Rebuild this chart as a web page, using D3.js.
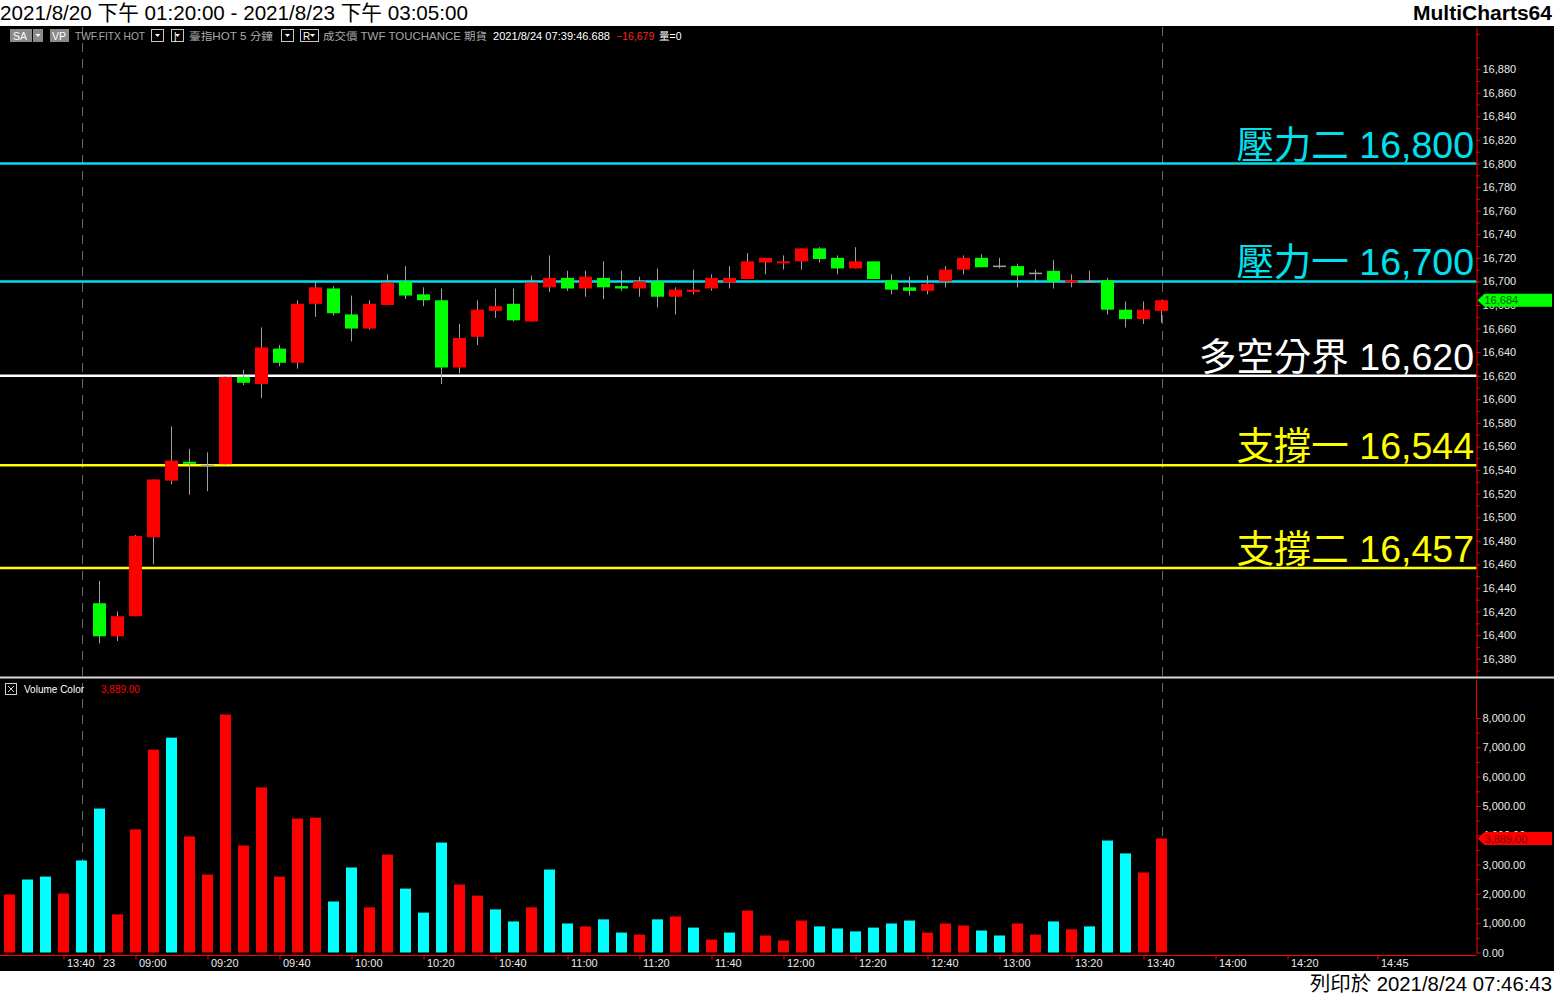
<!DOCTYPE html>
<html><head><meta charset="utf-8">
<script src="https://cdn.jsdelivr.net/npm/d3@7/dist/d3.min.js"></script>
<style>
body{margin:0;background:#fff;overflow:hidden}
svg{display:block}
text{font-family:"Liberation Sans",Arial,"Noto Sans CJK TC",sans-serif}
</style>
</head><body>
<svg id="c" width="1554" height="995"></svg>
<script>
// ---------------- DATA ----------------
// 5-minute bars of 2021/8/23 (bar 0 = 08:50 ... bar 59 = 13:45)
const opens  = [16427,16399,16416,16483,16531,16547,16544,16545,16619,16613,16643,16631,16681,16694,16672,16660,16680,16700,16689,16684,
                16627,16653,16675,16681,16666,16695,16703,16694,16703,16696,16694,16700,16687,16691,16694,16699,16702,16716,16716,16717,
                16728,16720,16711,16717,16701,16695,16692,16700,16710,16720,16713,16713,16707,16709,16699,16700,16701,16676,16668,16675];
const highs  = [16446,16420,16485,16532,16577,16558,16555,16620,16625,16661,16646,16684,16700,16696,16688,16684,16706,16713,16695,16694,
                16664,16684,16694,16694,16705,16722,16709,16709,16717,16709,16704,16711,16695,16710,16706,16713,16724,16720,16722,16728,
                16729,16722,16729,16717,16706,16704,16705,16713,16722,16723,16720,16715,16710,16718,16706,16709,16703,16683,16683,16684];
const lows   = [16393,16395,16416,16460,16528,16519,16522,16544,16612,16601,16628,16626,16670,16671,16649,16659,16680,16685,16679,16613,
                16622,16646,16669,16666,16666,16691,16692,16687,16685,16692,16687,16678,16672,16689,16692,16694,16702,16706,16710,16710,
                16716,16706,16711,16702,16689,16688,16689,16695,16706,16712,16711,16695,16700,16694,16695,16700,16672,16661,16664,16665];
const closes = [16399,16416,16484,16532,16548,16546,16544,16619,16614,16644,16631,16681,16695,16673,16660,16681,16699,16688,16684,16627,
                16652,16676,16679,16667,16699,16703,16694,16704,16695,16694,16700,16687,16693,16693,16703,16703,16717,16720,16717,16728,
                16719,16711,16717,16702,16693,16692,16698,16710,16720,16712,16713,16705,16707,16700,16701,16700,16676,16668,16676,16684];
// volume starts 5 bars earlier (8/20 13:25 .. 13:45)
const volStart = -5;
const volumes = [1980,2490,2590,2010,3140,
                 4910,1300,4200,6920,7330,3960,2660,8120,3650,5630,2590,4570,4600,1740,2900,1540,3340,2180,1360,3750,
                 2320,1940,1470,1060,1540,2830,990,890,1130,680,610,1130,1230,850,440,680,1430,580,410,1090,
                 890,820,720,850,990,1090,680,990,920,750,580,990,610,1060,790,890,3820,3380,2730,3889];
const volUp = [1,0,0,1,0,
               0,1,1,1,0,1,1,1,1,1,1,1,1,0,0,1,1,0,0,0,
               1,1,0,0,1,0,0,1,0,0,1,0,1,0,1,0,1,1,1,1,
               0,0,0,0,0,0,1,1,1,0,0,1,1,0,1,0,0,0,1,1];
const levelNames  = ["壓力二","壓力一","多空分界","支撐一","支撐二"];
const levelValues = [16800,16700,16620,16544,16457];
const priceTicks = d3.range(16380, 16881, 20);
const volTicks = d3.range(0, 8001, 1000);
const timeTickBars  = [-2,0,2,6,10,14,18,22,26,30,34,38,42,46,50,54,58,62,66,71];
const timeTickLabels= ["13:40","23","09:00","09:20","09:40","10:00","10:20","10:40","11:00","11:20","11:40","12:00","12:20","12:40","13:00","13:20","13:40","14:00","14:20","14:45"];
const sessionEndBars = [-1, 59];
const lastPrice = 16684, lastVolume = 3889;

// ---------------- LAYOUT ----------------
const svg = d3.select("#c");
const W = 1554, AX = 1476.5;
const levelColor = ["#00e0ee","#00e0ee","#ffffff","#ffff00","#ffff00"];

svg.append("rect").attr("x",0).attr("y",0).attr("width",W).attr("height",995).attr("fill","#fff");
svg.append("rect").attr("x",0).attr("y",26).attr("width",W).attr("height",945).attr("fill","#000");

// title
svg.append("text").attr("x",0).attr("y",20).attr("font-size",21).attr("fill","#000")
  .attr("textLength",468).attr("lengthAdjust","spacingAndGlyphs")
  .text("2021/8/20 下午 01:20:00 - 2021/8/23 下午 03:05:00");
svg.append("text").attr("x",1552).attr("y",20).attr("text-anchor","end").attr("font-size",20).attr("font-weight","bold").attr("fill","#000")
  .attr("textLength",139).attr("lengthAdjust","spacingAndGlyphs")
  .text("MultiCharts64");
svg.append("text").attr("x",1552).attr("y",991).attr("text-anchor","end").attr("font-size",20).attr("fill","#000")
  .attr("textLength",242).attr("lengthAdjust","spacingAndGlyphs")
  .text("列印於 2021/8/24 07:46:43");

// scales
const x = d3.scaleLinear().domain([0,59]).range([99.5,1161.5]);
const y = d3.scaleLinear().domain([16365.31,16915.78]).range([676,27]);
const yv = d3.scaleLinear().domain([0,8000]).range([952.5,718]);

// session dashed lines
svg.selectAll(".sess").data(sessionEndBars).join("line")
  .attr("x1",d=>Math.round(x(d))+0.5).attr("x2",d=>Math.round(x(d))+0.5).attr("y1",27).attr("y2",955)
  .attr("stroke","#6a6a6a").attr("stroke-width",1).attr("stroke-dasharray","9,7");

// header row 2
const hdr = svg.append("g").attr("font-size",10.5);
function ddBox(x0,w,label){
  hdr.append("rect").attr("x",x0+0.5).attr("y",29.5).attr("width",w).attr("height",12).attr("fill","#000").attr("stroke","#c8c8c8");
  if(label) hdr.append("text").attr("x",x0+3).attr("y",39.5).attr("fill","#fff").attr("font-size",10).text(label);
  hdr.append("path").attr("d",`M${x0+w-8},34 l5,0 l-2.5,3z`).attr("fill","#fff");
}
hdr.append("rect").attr("x",10).attr("y",29).attr("width",22).attr("height",13).attr("fill","#8a8a8a");
hdr.append("text").attr("x",13).attr("y",39.5).attr("fill","#fff").text("SA");
hdr.append("rect").attr("x",33).attr("y",29).attr("width",10).attr("height",13).attr("fill","#8a8a8a");
hdr.append("path").attr("d","M35.5,34 l5,0 l-2.5,3z").attr("fill","#fff");
hdr.append("rect").attr("x",50).attr("y",29).attr("width",19).attr("height",13).attr("fill","#8a8a8a");
hdr.append("text").attr("x",52).attr("y",39.5).attr("fill","#fff").text("VP");
hdr.append("text").attr("x",75).attr("y",40).attr("fill","#a8a8a8").attr("textLength",70).attr("lengthAdjust","spacingAndGlyphs").text("TWF.FITX HOT");
ddBox(151,12,null);
ddBox(171,12,"|");
hdr.append("text").attr("x",189).attr("y",40).attr("fill","#a8a8a8").attr("textLength",84).attr("lengthAdjust","spacingAndGlyphs").text("臺指HOT  5 分鐘");
ddBox(281,12,null);
ddBox(300,18,"R");
hdr.append("text").attr("x",323).attr("y",40).attr("fill","#a8a8a8").attr("textLength",164).attr("lengthAdjust","spacingAndGlyphs").text("成交價  TWF  TOUCHANCE  期貨");
hdr.append("text").attr("x",493).attr("y",40).attr("fill","#fff").attr("textLength",117).attr("lengthAdjust","spacingAndGlyphs").text("2021/8/24  07:39:46.688");
hdr.append("text").attr("x",616).attr("y",40).attr("fill","#ff2020").text(d3.format(",")(-16679));
hdr.append("text").attr("x",659).attr("y",40).attr("fill","#fff").text("量=0");

// level lines
const lv = levelValues.map((v,i)=>({v,name:levelNames[i],c:levelColor[i]}));
svg.selectAll(".lvl").data(lv).join("line")
  .attr("x1",0).attr("x2",AX).attr("y1",d=>y(d.v)).attr("y2",d=>y(d.v))
  .attr("stroke",d=>d.c).attr("stroke-width",2.5);
svg.selectAll(".lvlt").data(lv).join("text")
  .attr("x",1474).attr("y",d=>y(d.v)-6).attr("text-anchor","end")
  .attr("font-size",37.5).attr("fill",d=>d.c)
  .text(d=>d.name+" "+d3.format(",")(d.v));

// candles
const candles = opens.map((o,i)=>({i,o,h:highs[i],l:lows[i],c:closes[i]}));
const cg = svg.append("g");
cg.selectAll(".wick").data(candles).join("line")
  .attr("x1",d=>x(d.i)).attr("x2",d=>x(d.i)).attr("y1",d=>y(d.h)).attr("y2",d=>y(d.l))
  .attr("stroke","#a0a0a0").attr("stroke-width",1);
cg.selectAll(".body").data(candles).join("rect")
  .attr("x",d=>x(d.i)-6.5).attr("width",13)
  .attr("y",d=>d.o===d.c ? y(d.o)-0.5 : y(Math.max(d.o,d.c)))
  .attr("height",d=>d.o===d.c ? 1.5 : Math.max(2, Math.abs(y(d.o)-y(d.c))))
  .attr("fill",d=>d.c>d.o ? "#ff0000" : (d.c<d.o ? "#00ff00" : "#a0a0a0"));

// price axis
const pax = svg.append("g").attr("transform",`translate(${AX},0)`);
pax.call(d3.axisRight(y).tickValues(priceTicks).tickFormat(d3.format(",")).tickSize(4).tickSizeOuter(0));
const pminor = svg.append("g").attr("transform",`translate(${AX},0)`);
pminor.call(d3.axisRight(y).tickValues(d3.range(16370,16911,20)).tickFormat("").tickSize(3).tickSizeOuter(0));
pminor.select(".domain").remove();

// separator between panes
svg.append("line").attr("x1",0).attr("x2",W).attr("y1",677.5).attr("y2",677.5).attr("stroke","#d8d8d8").attr("stroke-width",2);

// volume bars
const vols = volumes.map((v,k)=>({i:k+volStart,v,up:volUp[k]}));
svg.selectAll(".vol").data(vols).join("rect")
  .attr("x",d=>x(d.i)-5.5).attr("width",11)
  .attr("y",d=>yv(d.v)).attr("height",d=>yv(0)-yv(d.v))
  .attr("fill",d=>d.up ? "#ff0000" : "#00ffff");

// volume axis
const vax = svg.append("g").attr("transform",`translate(${AX},0)`);
vax.call(d3.axisRight(yv).tickValues(volTicks).tickFormat(d3.format(",.2f")).tickSize(4).tickSizeOuter(0));
const vminor = svg.append("g").attr("transform",`translate(${AX},0)`);
vminor.call(d3.axisRight(yv).tickValues(d3.range(500,8001,1000)).tickFormat("").tickSize(3).tickSizeOuter(0));
vminor.select(".domain").remove();
svg.append("line").attr("x1",AX).attr("x2",AX).attr("y1",680).attr("y2",718).attr("stroke","#ff0000");

// time axis
const xax = svg.append("g").attr("transform","translate(0,955.5)");
xax.call(d3.axisBottom(x).tickValues(timeTickBars).tickFormat((d,k)=>timeTickLabels[k]).tickSize(4).tickSizeOuter(0));
xax.selectAll("text").attr("text-anchor","start").attr("dx",3).attr("y",4).attr("dy","0.71em");
xax.select(".domain").attr("d",`M0,0H${AX}`);

// axis styling
[pax,pminor,vax,vminor,xax].forEach(g=>{
  g.selectAll(".domain").attr("stroke","#ff0000");
  g.selectAll(".tick line").attr("stroke","#ff0000");
  g.selectAll("text").attr("fill","#eaeaea").attr("font-size",11).attr("font-family","Liberation Sans, Arial, sans-serif");
});
pax.selectAll("text").attr("x",6);
vax.selectAll("text").attr("x",6);

// last price / last volume markers (drawn over the axis, as in the original)
function marker(yy, fill, txt, tcol){
  const g = svg.append("g");
  g.append("path").attr("d",`M${AX+1},${yy} L${AX+8},${yy-6.5} L1552,${yy-6.5} L1552,${yy+6.5} L${AX+8},${yy+6.5}Z`).attr("fill",fill);
  g.append("text").attr("x",AX+8).attr("y",yy+4).attr("font-size",11).attr("fill",tcol).text(txt);
}
marker(y(lastPrice),"#00ff00",d3.format(",")(lastPrice),"#006000");
marker(yv(lastVolume),"#ff0000",d3.format(",.2f")(lastVolume),"#7a0000");

// volume header
const vh = svg.append("g");
vh.append("rect").attr("x",5.5).attr("y",683.5).attr("width",11).attr("height",11).attr("fill","none").attr("stroke","#d0d0d0");
vh.append("path").attr("d","M8,686 L14,692 M14,686 L8,692").attr("stroke","#d0d0d0");
vh.append("text").attr("x",24).attr("y",693).attr("font-size",10).attr("fill","#fff").text("Volume Color");
vh.append("text").attr("x",101).attr("y",693).attr("font-size",10).attr("fill","#ff0000").text(d3.format(",.2f")(lastVolume));
</script>
</body></html>
